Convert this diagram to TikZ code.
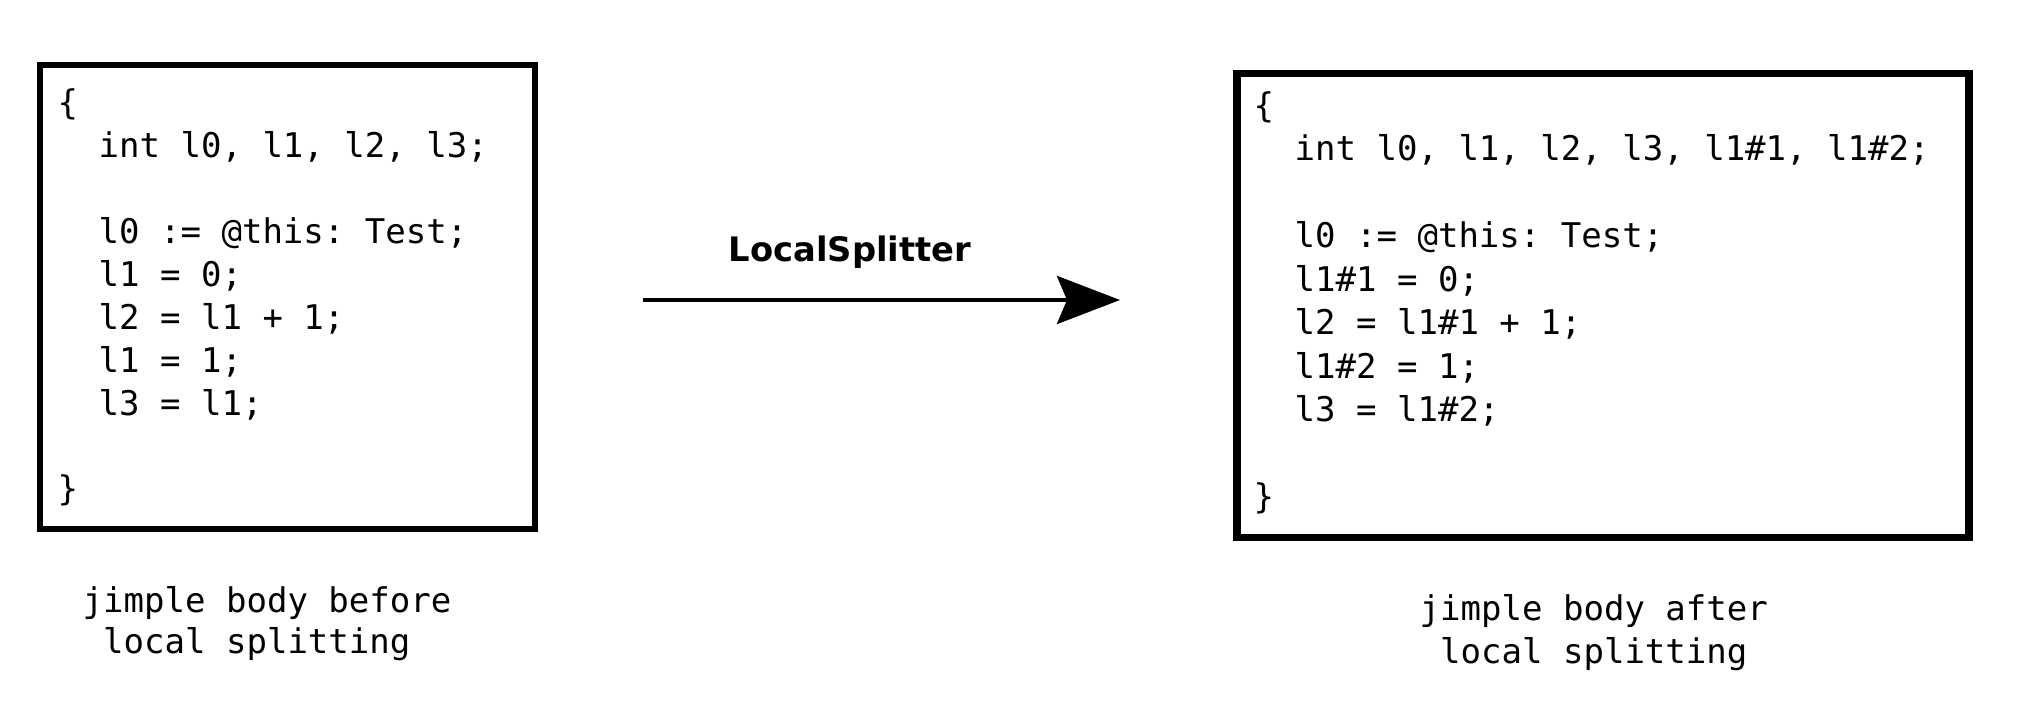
\documentclass[tikz,border=0pt]{standalone}
\usepackage{fontspec}
\setmonofont{DejaVu Sans Mono}
\setsansfont{DejaVu Sans}
\usetikzlibrary{arrows.meta}
\newcommand{\codeind}{\hspace*{1.204em}}
\tikzset{
  code/.style={inner sep=0pt, anchor=base west, align=left,
    font=\ttfamily\fontsize{9.68}{12.23}\selectfont},
  caption/.style={inner sep=0pt, anchor=base west, align=left,
    font=\ttfamily\fontsize{9.68}{11.7}\selectfont}
}
\begin{document}
\begin{tikzpicture}
  \useasboundingbox (0,0) rectangle (20.22,7.22);
  % left box (before)
  \draw[line width=1.6pt] (0.40,1.93) rectangle (5.35,6.57);
  \node[code] (before code) at (0.57,2.21) {\{\\
    \codeind int l0, l1, l2, l3;\\
    \mbox{}\\
    \codeind l0 := @this: Test;\\
    \codeind l1 = 0;\\
    \codeind l2 = l1 + 1;\\
    \codeind l1 = 1;\\
    \codeind l3 = l1;\\
    \mbox{}\\
    \}};
  \node[caption] (before label) at (0.82,0.68) {jimple body before\\
    \mbox{}\ local splitting};
  % arrow with transformation name
  \coordinate (split from) at (6.43,4.22);
  \coordinate (split to) at (11.20,4.22);
  \draw[line width=1.2pt, -{Stealth[length=0.63cm, width=0.48cm, inset=0.1cm]}]
    (split from) -- (split to);
  \node[inner sep=0pt, anchor=base, font=\sffamily\bfseries\fontsize{9.6}{11}\selectfont]
    (splitter) at (8.50,4.60) {LocalSplitter};
  % right box (after)
  \draw[line width=2.1pt] (12.37,1.845) rectangle (19.69,6.485);
  \node[code, font=\ttfamily\fontsize{9.68}{12.38}\selectfont] (after code) at (12.53,2.13) {\{\\
    \codeind int l0, l1, l2, l3, l1\#1, l1\#2;\\
    \mbox{}\\
    \codeind l0 := @this: Test;\\
    \codeind l1\#1 = 0;\\
    \codeind l2 = l1\#1 + 1;\\
    \codeind l1\#2 = 1;\\
    \codeind l3 = l1\#2;\\
    \mbox{}\\
    \}};
  \node[caption, font=\ttfamily\fontsize{9.68}{12.5}\selectfont] (after label) at (14.19,0.58)
    {jimple body after\\
    \mbox{}\ local splitting};
\end{tikzpicture}
\end{document}
